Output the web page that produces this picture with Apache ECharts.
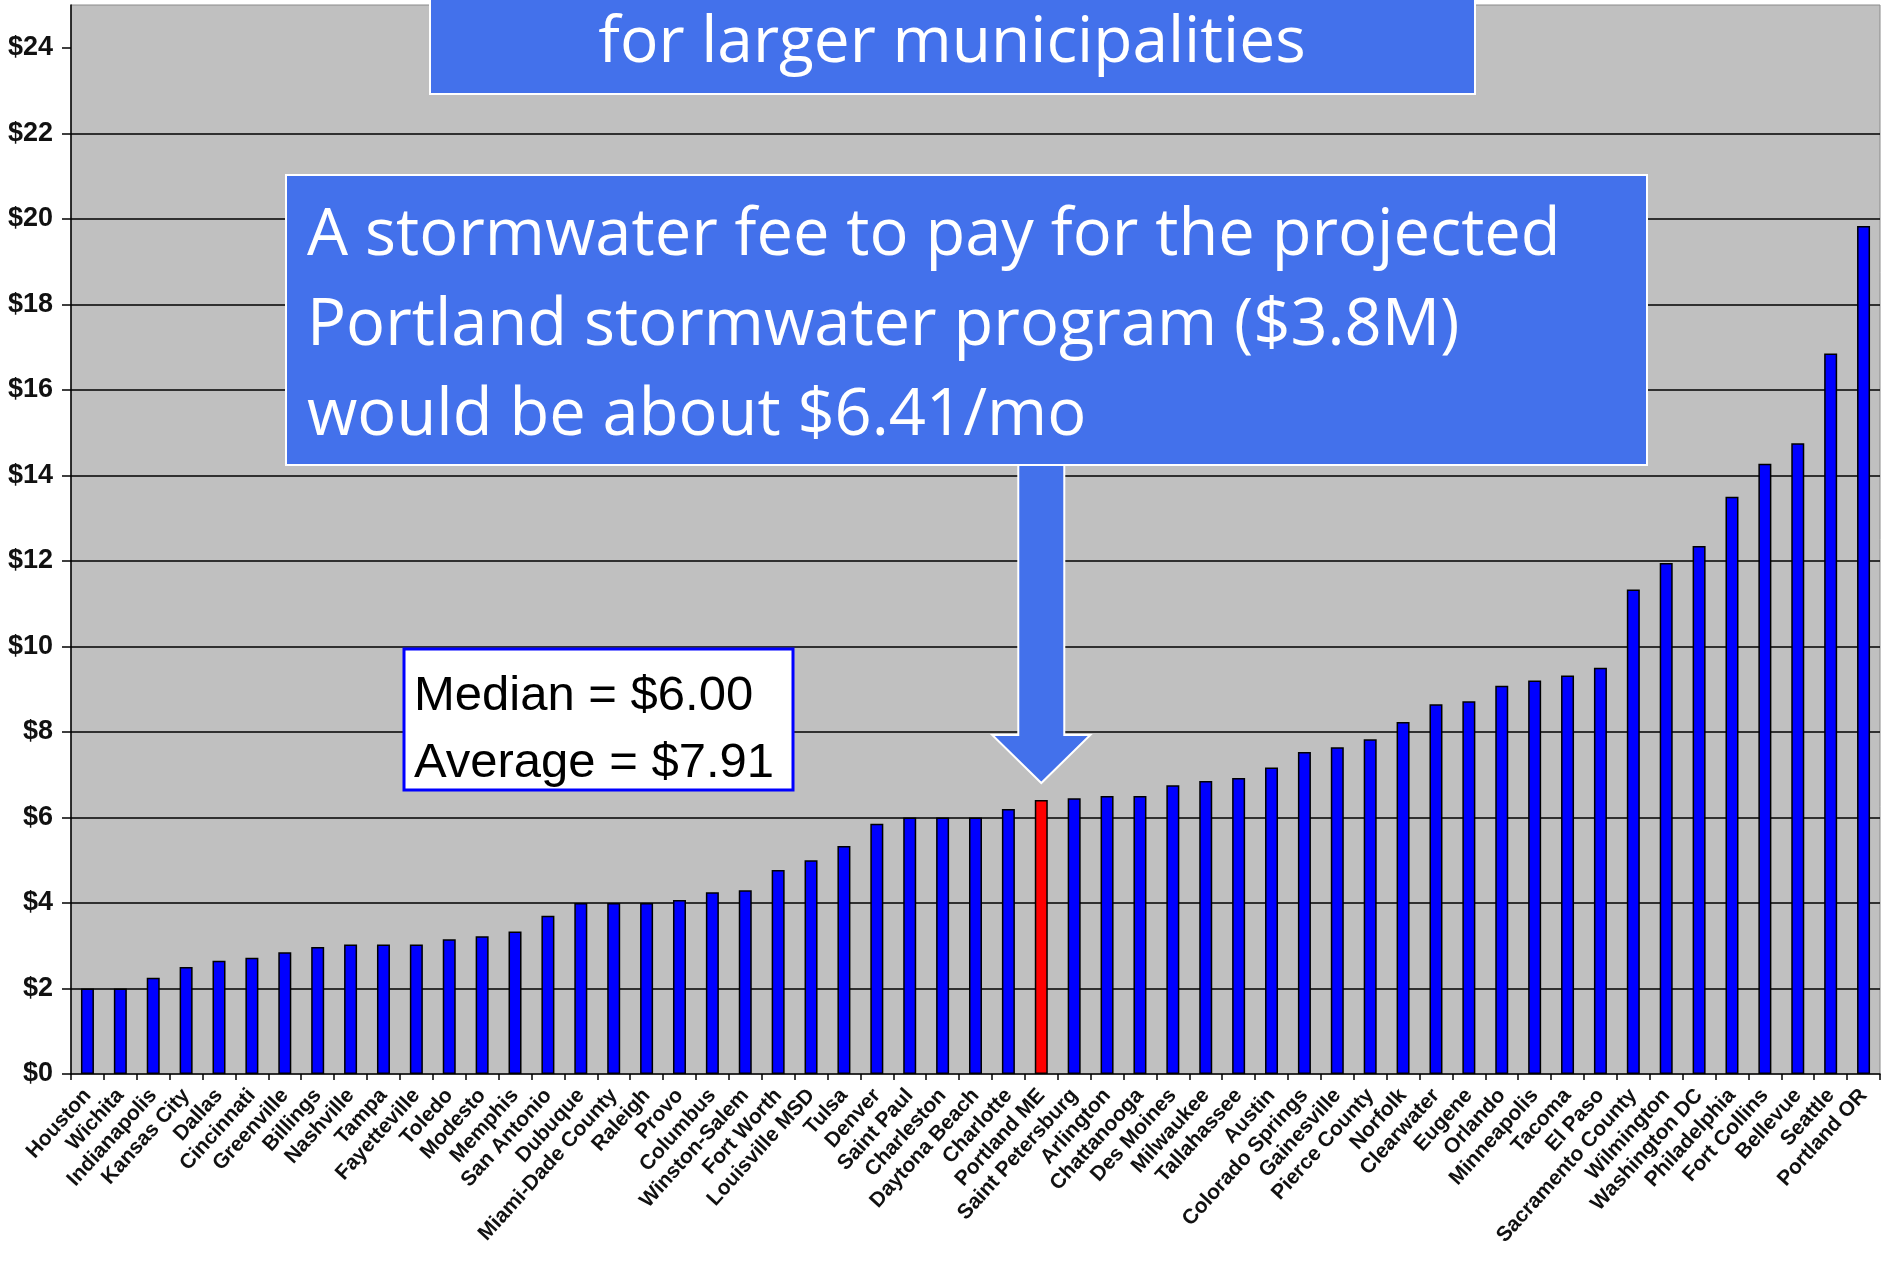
<!DOCTYPE html>
<html>
<head>
<meta charset="utf-8">
<title>Stormwater fees</title>
<script src="https://cdn.jsdelivr.net/npm/echarts@6/dist/echarts.min.js"></script>
<style>
  html, body { margin: 0; padding: 0; background: #fff; }
  #chart { width: 1883px; height: 1273px; }
</style>
</head>
<body>
<div id="chart"></div>
<script>
  // monthly stormwater fee per city, sorted low -> high
  const cities = ['Houston', 'Wichita', 'Indianapolis', 'Kansas City', 'Dallas', 'Cincinnati', 'Greenville', 'Billings',
    'Nashville', 'Tampa', 'Fayetteville', 'Toledo', 'Modesto', 'Memphis', 'San Antonio', 'Dubuque', 'Miami-Dade County',
    'Raleigh', 'Provo', 'Columbus', 'Winston-Salem', 'Fort Worth', 'Louisville MSD', 'Tulsa', 'Denver', 'Saint Paul',
    'Charleston', 'Daytona Beach', 'Charlotte', 'Portland ME', 'Saint Petersburg', 'Arlington', 'Chattanooga',
    'Des Moines', 'Milwaukee', 'Tallahassee', 'Austin', 'Colorado Springs', 'Gainesville', 'Pierce County', 'Norfolk',
    'Clearwater', 'Eugene', 'Orlando', 'Minneapolis', 'Tacoma', 'El Paso', 'Sacramento County', 'Wilmington',
    'Washington DC', 'Philadelphia', 'Fort Collins', 'Bellevue', 'Seattle', 'Portland OR']
  const fees = [2.0, 2.0, 2.25, 2.5, 2.65, 2.72, 2.85, 2.97, 3.03, 3.03, 3.03, 3.15, 3.22, 3.33, 3.7, 4.0, 4.0, 4.0,
    4.07, 4.25, 4.3, 4.77, 5.0, 5.33, 5.85, 6.0, 6.0, 6.0, 6.2, 6.41, 6.45, 6.5, 6.5, 6.75, 6.85, 6.92, 7.17, 7.53,
    7.64, 7.83, 8.23, 8.65, 8.72, 9.08, 9.2, 9.32, 9.5, 11.33, 11.95, 12.35, 13.5, 14.27, 14.75, 16.85, 19.83]
  const yTicks = [0, 2, 4, 6, 8, 10, 12, 14, 16, 18, 20, 22, 24]
  const highlightCity = 'Portland ME'

  const topNote = 'for larger municipalities'
  const mainNote = ['A stormwater fee to pay for the projected', 'Portland stormwater program ($3.8M)', 'would be about $6.41/mo']
  const statsNote = ['Median = $6.00', 'Average = $7.91']

  const boxBlue = '#4371EB'
  const chart = echarts.init(document.getElementById('chart'))

  const option = {
    animation: false,
    backgroundColor: '#fff',
    grid: {
      left: 71,
      right: 3,
      top: 5,
      bottom: 199,
      show: true,
      backgroundColor: '#C0C0C0',
      borderColor: '#8a8a8a',
      borderWidth: 1
    },
    xAxis: {
      type: 'category',
      data: cities,
      axisLine: { lineStyle: { color: '#000', width: 1.5 } },
      axisTick: { show: true, length: 6, lineStyle: { color: '#000', width: 1.5 } },
      axisLabel: {
        interval: 0,
        rotate: 48,
        margin: 18,
        color: '#111',
        fontFamily: 'Liberation Sans',
        fontWeight: 'bold',
        fontSize: 21
      },
      splitLine: { show: false }
    },
    yAxis: {
      type: 'value',
      min: 0,
      max: 25,
      interval: 2,
      axisLine: { show: true, lineStyle: { color: '#000', width: 1.5 } },
      axisTick: { show: true, length: 9, customValues: yTicks, lineStyle: { color: '#000', width: 1.5 } },
      axisLabel: {
        customValues: yTicks,
        margin: 18,
        color: '#111',
        fontFamily: 'Liberation Sans',
        fontWeight: 'bold',
        fontSize: 27,
        formatter: (v) => '$' + v
      },
      splitLine: {
        show: true,
        showMinLine: false,
        showMaxLine: false,
        lineStyle: { color: '#000', width: 1.6 }
      }
    },
    series: [{
      type: 'bar',
      barWidth: 13,
      data: fees.map((v, i) => ({
        value: v,
        itemStyle: { color: cities[i] === highlightCity ? '#FF0000' : '#0000FF' }
      })),
      itemStyle: { borderColor: '#000', borderWidth: 1.5 }
    }]
  }
  chart.setOption(option)

  // annotations: boxes are placed on the slide, the arrow points at the highlighted bar
  const hiIndex = cities.indexOf(highlightCity)
  const tipX = chart.convertToPixel({ xAxisIndex: 0 }, hiIndex)
  const shaftTop = 465
  const headBase = 735
  const tipY = 783

  chart.setOption({
    graphic: [
      {
        type: 'rect',
        z: 100,
        shape: { x: 430, y: -2, width: 1045, height: 96 },
        style: { fill: boxBlue, stroke: '#fff', lineWidth: 2 }
      },
      {
        type: 'text',
        z: 101,
        x: 952,
        y: 5,
        style: {
          text: topNote,
          fill: '#fff',
          font: '64px "Open Sans"',
          align: 'center',
          verticalAlign: 'top',
          lineHeight: 78
        }
      },
      {
        type: 'polygon',
        z: 99,
        shape: {
          points: [
            [tipX - 23, shaftTop - 2], [tipX + 23, shaftTop - 2], [tipX + 23, headBase],
            [tipX + 49, headBase], [tipX, tipY], [tipX - 49, headBase], [tipX - 23, headBase]
          ]
        },
        style: { fill: boxBlue, stroke: '#fff', lineWidth: 2 }
      },
      {
        type: 'rect',
        z: 100,
        shape: { x: 286, y: 175, width: 1361, height: 290 },
        style: { fill: boxBlue, stroke: '#fff', lineWidth: 2 }
      },
      {
        type: 'text',
        z: 101,
        x: 307,
        y: 191,
        style: {
          text: mainNote.join('\n'),
          fill: '#fff',
          font: '65px "Open Sans"',
          verticalAlign: 'top',
          lineHeight: 90
        }
      },
      {
        type: 'rect',
        z: 100,
        shape: { x: 404, y: 649, width: 389, height: 141 },
        style: { fill: '#fff', stroke: '#0000FF', lineWidth: 3 }
      },
      {
        type: 'text',
        z: 101,
        x: 414,
        y: 663,
        style: {
          text: statsNote.join('\n'),
          fill: '#000',
          font: '49px "Liberation Sans"',
          verticalAlign: 'top',
          lineHeight: 67
        }
      }
    ]
  })
</script>
</body>
</html>
